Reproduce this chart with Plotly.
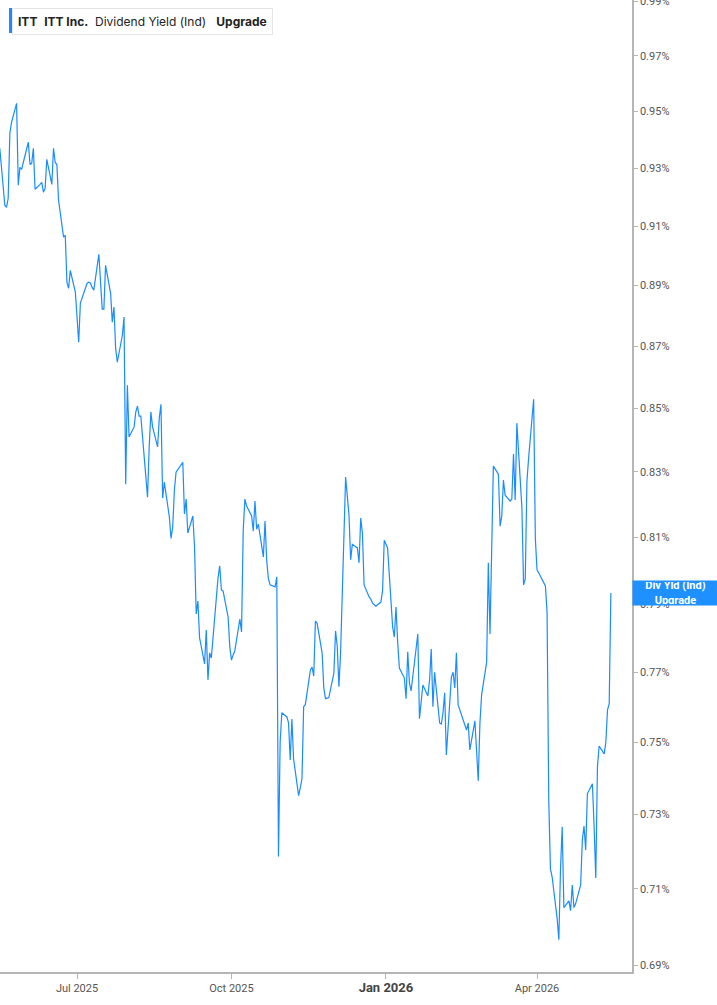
import numpy as np
import pandas as pd
import plotly.graph_objects as go

# Dividend yield (%) per trading day
yield_pct = [
    0.9370, 0.9172, 0.9165, 0.9196, 0.9423, 0.9461, 0.9529, 0.9241, 0.9303, 0.9296,
    0.9320, 0.9391, 0.9313, 0.9317, 0.9370, 0.9227, 0.9244, 0.9251, 0.9217, 0.9231,
    0.9331, 0.9244, 0.9370, 0.9320, 0.9313, 0.9189, 0.9063, 0.9069, 0.8911, 0.8891,
    0.8951, 0.8878, 0.8796, 0.8713, 0.8842, 0.8908, 0.8911, 0.8908, 0.8894, 0.8885,
    0.9005, 0.8908, 0.8822, 0.8822, 0.8968, 0.8875, 0.8779, 0.8829, 0.8694, 0.8648,
    0.8736, 0.8796, 0.8262, 0.8574, 0.8409, 0.8441, 0.8488, 0.8507, 0.8475, 0.8475,
    0.8265, 0.8222, 0.8378, 0.8488, 0.8441, 0.8378, 0.8469, 0.8513, 0.8219, 0.8268,
    0.8161, 0.8096, 0.8130, 0.8244, 0.8299, 0.8330, 0.8170, 0.8216, 0.8112, 0.8164,
    0.8070, 0.7870, 0.7908, 0.7800, 0.7724, 0.7823, 0.7678, 0.7756, 0.7741, 0.7920,
    0.7977, 0.8013, 0.7941, 0.7938, 0.7861, 0.7773, 0.7735, 0.7750, 0.7762, 0.7855,
    0.7817, 0.8121, 0.8216, 0.8195, 0.8164, 0.8118, 0.8210, 0.8124, 0.8139, 0.8040,
    0.8149, 0.8028, 0.7974, 0.7956, 0.7950, 0.7980, 0.7186, 0.7501, 0.7584, 0.7572,
    0.7555, 0.7451, 0.7566, 0.7454, 0.7352, 0.7374, 0.7399, 0.7601, 0.7607, 0.7706,
    0.7715, 0.7689, 0.7849, 0.7843, 0.7756, 0.7655, 0.7624, 0.7627, 0.7697, 0.7820,
    0.7776, 0.7658, 0.7756, 0.8284, 0.8235, 0.8167, 0.8031, 0.8078, 0.8067, 0.8022,
    0.8158, 0.8112, 0.7956, 0.7920, 0.7914, 0.7902, 0.7893, 0.7905, 0.7938, 0.8090,
    0.8067, 0.7832, 0.7802, 0.7890, 0.7788, 0.7712, 0.7683, 0.7624, 0.7759, 0.7669,
    0.7646, 0.7811, 0.7567, 0.7627, 0.7663, 0.7632, 0.7678, 0.7767, 0.7601, 0.7700,
    0.7555, 0.7552, 0.7584, 0.7641, 0.7465, 0.7686, 0.7700, 0.7655, 0.7756, 0.7607,
    0.7544, 0.7535, 0.7555, 0.7479, 0.7561, 0.7479, 0.7393, 0.7555, 0.7635, 0.7729,
    0.8022, 0.7811, 0.8031, 0.8318, 0.8293, 0.8133, 0.8164, 0.8275, 0.8228, 0.8210,
    0.8216, 0.8356, 0.8213, 0.8453, 0.8189, 0.7956, 0.7974, 0.8271, 0.8343, 0.8529,
    0.8096, 0.8001, 0.7992, 0.7953, 0.7873, 0.7338, 0.7153, 0.7132, 0.7021, 0.6966,
    0.7153, 0.7267, 0.7050, 0.7068, 0.7042, 0.7110, 0.7050, 0.7060, 0.7110, 0.7231,
    0.7269, 0.7204, 0.7357, 0.7385, 0.7269, 0.7129, 0.7432, 0.7490, 0.7468, 0.7501,
    0.7592, 0.7609, 0.7932,
]

market_holidays = [
    "2025-07-04", "2025-09-01", "2025-11-27",
    "2025-12-25", "2026-01-01", "2026-01-19", "2026-02-16", "2026-04-03",
]
last_date = "2026-05-15"
dates = pd.bdate_range(end=last_date, periods=len(yield_pct), freq="C",
                       holidays=market_holidays)

x_tick_vals = ["2025-07-01", "2025-10-01", "2026-01-01", "2026-04-01"]
x_tick_text = ["Jul 2025", "Oct 2025",
               "<span style='font-size:13px;font-weight:bold;color:#444'>Jan 2026</span>",
               "Apr 2026"]
y_tick_vals = [0.69, 0.71, 0.73, 0.75, 0.77, 0.79, 0.81, 0.83, 0.85, 0.87,
               0.89, 0.91, 0.93, 0.95, 0.97, 0.99]
y_tick_text = [f"{v:.2f}%" for v in y_tick_vals]

line_color = "#1A8CFF"

fig = go.Figure()
fig.add_trace(go.Scatter(
    x=dates, y=yield_pct, mode="lines",
    line=dict(color=line_color, width=1.2),
    hoverinfo="skip", showlegend=False,
))

fig.update_layout(
    width=717, height=1005,
    margin=dict(l=0, r=85, t=0, b=33),
    paper_bgcolor="white", plot_bgcolor="white",
    font=dict(family="Roboto, Arial, sans-serif", color="#555", size=11),
    xaxis=dict(
        range=["2025-05-16 03:00", "2026-05-27 14:00"],
        tickvals=x_tick_vals, ticktext=x_tick_text,
        showgrid=False, zeroline=False,
        showline=True, linecolor="#b5b5b5", linewidth=1.5,
        ticks="outside", ticklen=5, tickcolor="#b5b5b5",
        tickfont=dict(size=11, color="#555"),
        automargin=False,
    ),
    yaxis=dict(
        type="log", side="right",
        range=[np.log10(0.6882), np.log10(0.9905)],
        tickvals=y_tick_vals, ticktext=y_tick_text,
        showgrid=False, zeroline=False,
        showline=True, linecolor="#b5b5b5", linewidth=1.5,
        ticks="outside", ticklen=4, tickcolor="#b5b5b5",
        tickfont=dict(size=11, color="#555"),
        ticklabeloverflow="allow", automargin=False,
    ),
)

# header / legend box
fig.add_annotation(
    xref="paper", yref="paper", x=12 / 632, y=1 - 8 / 972,
    xanchor="left", yanchor="top", showarrow=False, align="left",
    text="<b>ITT</b>  <b>ITT Inc.</b>  Dividend Yield (Ind)   <b>Upgrade</b>",
    font=dict(family="Inter, Roboto, sans-serif", size=12, color="#222"),
    bgcolor="white", bordercolor="#e6e6e6", borderwidth=1, borderpad=5,
)
fig.add_shape(
    type="rect", xref="paper", yref="paper",
    x0=9 / 632, x1=12 / 632, y0=1 - 33 / 972, y1=1 - 8 / 972,
    fillcolor=line_color, line=dict(width=0),
)

# last value tag on the right axis
fig.add_annotation(
    xref="paper", yref="y", x=1, y=np.log10(yield_pct[-1]),
    xanchor="left", yanchor="middle", showarrow=False,
    text="<b>Div Yld (Ind)</b><br><b>Upgrade</b>",
    font=dict(family="Roboto, Arial, sans-serif", size=11, color="white"),
    bgcolor="#1E90FF", borderpad=1, width=83, height=22, align="center",
)

fig.write_html("out.html", config={"displayModeBar": False},
               post_script="document.body.style.margin='0';")
